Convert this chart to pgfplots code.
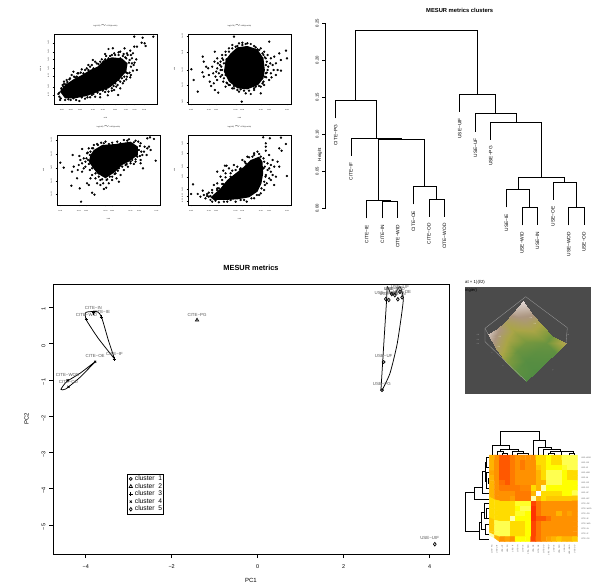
\documentclass[border=0pt]{standalone}
\usepackage{fontspec}
\setmainfont{Liberation Sans}
\usepackage{pgfplots}
\pgfplotsset{compat=1.18}
\usepgfplotslibrary{patchplots}
\definecolor{lab}{gray}{0.35}
\newcommand\fs[1]{\fontsize{#1}{#1}\selectfont}
\pgfplotsset{
 px/.style={scale only axis,anchor=south west,clip=false},
 sc/.style={px,width=103pt,height=70pt,y dir=reverse,clip=true,axis line style={line width=.8pt},
   tick align=outside,major tick length=1.5pt,tick style={line width=.25pt,black},
   ticklabel style={font=\fs{1.5}},xtick pos=lower,ytick pos=left,xticklabel pos=lower,
   yticklabel style={rotate=90,anchor=south},xlabel style={font=\fs{1.5}},ylabel style={font=\fs{1.5}},
   title style={font=\fs{1.6},yshift=-2.5pt}},
 pts/.style={only marks,mark=*,mark size=.95pt,black,mark options={draw=black,fill=black}},
 core/.style={fill=black,draw=none,no marks},
 dn/.style={black,line width=.65pt,no marks},
 dh/.style={black,line width=.75pt,no marks,solid},
 pl/.style={only marks,black,line width=.7pt,mark size=1.5pt},
 hull/.style={black,line width=.75pt,smooth,tension=.35,no marks,forget plot},
}
\newcommand\lb[3]{\node[font=\fs{4.4},text=lab] at (axis cs:#1,#2) {#3};}
\begin{document}
\begin{tikzpicture}
\useasboundingbox (0,0) rectangle (599pt,584pt);
% ---------- scatter A
\begin{axis}[sc,at={(54pt,480pt)},xmin=42,xmax=350,ymin=42,ymax=252,
 xtick={65,92,120,158,188,225,257,283,312},xticklabels={1e-05,2e-05,5e-05,1e-04,2e-04,5e-04,1e-03,2e-03,5e-03},
 ytick={68,95,118,145,168,200,225},yticklabels={1e-03,5e-04,2e-04,1e-04,5e-05,2e-05,1e-05},
 title={log(CITE) $\sim$ CITE(Sp.wOD)},xlabel={CITE},ylabel={CITE-IE}]
\addplot[core] coordinates {(60,215)(75,195)(100,178)(125,165)(150,150)(172,140)(190,122)(215,112)(245,115)(262,130)(258,155)(240,175)(225,190)(205,205)(175,215)(140,228)(105,235)(75,235)};
\addplot[pts] coordinates {(282,50)(307,53)(339,50)(304,68)(313,70)(316,78)(290,80)(282,80)(253,85)(270,92)(218,85)(205,87)(235,97)(195,102)(215,105)(158,120)(145,135)(180,125)(278,100)(260,100)(240,95)(250,102)(225,105)(55,222)(60,240)(58,230)(65,210)(70,200)(72,185)(68,195)(80,180)(78,193)(95,165)(85,238)(100,235)(118,243)(135,236)(150,232)(165,230)(180,232)(203,226)(234,225)(205,215)(215,205)(240,205)(232,195)(252,183)(260,170)(270,172)(278,152)(290,150)(280,135)(288,118)(275,130)(268,120)(272,105)(255,112)(262,105)(240,115)(245,125)(250,140)(255,150)(240,160)(245,175)(235,180)(225,190)(210,198)(225,120)(215,125)(205,115)(200,130)(190,125)(195,118)(180,140)(170,130)(160,145)(145,150)(130,160)(115,160)(110,170)(150,140)(125,148)(105,172)(88,178)(100,155)(258,158)(248,190)(220,198)(198,208)(188,212)(172,218)(155,225)(58,218)(64,205)(72,192)(82,186)(90,175)(102,170)(112,160)(122,158)(135,150)(140,145)(155,135)(165,125)(175,132)(185,118)(198,108)(210,108)(222,100)(235,105)(248,108)(258,115)(266,128)(272,140)(262,160)(268,158)(252,170)(240,185)(228,200)(215,212)(195,216)(180,222)(160,222)(142,232)(125,232)(108,240)(92,240)(75,240)(62,235)(222,210)(275,115)(283,128)(272,165)(258,178)};
\end{axis}
% ---------- scatter B
\begin{axis}[sc,at={(188pt,480pt)},xmin=443,xmax=750,ymin=42,ymax=252,
 xtick={452,505,527,585,605,660,685,738},xticklabels={1e-05,1e-04,2e-04,1e-03,2e-03,1e-02,2e-02,1e-01},
 ytick={48,97,150,195,245},yticklabels={1e+03,5e+02,1e+02,5e+01,1e+01},
 title={log(CITE) $\sim$ USE(Sp.wOD)},xlabel={USE},ylabel={CITE}]
\addplot[core] coordinates {(555,120)(570,100)(590,82)(620,78)(650,88)(668,115)(672,150)(668,175)(652,195)(620,208)(590,205)(565,185)(550,155)};
\addplot[pts] coordinates {(453,148)(460,180)(472,215)(487,110)(490,125)(497,140)(486,157)(490,170)(503,145)(505,165)(508,185)(512,198)(520,190)(523,210)(533,218)(527,155)(532,130)(523,95)(530,115)(540,125)(545,105)(555,95)(565,85)(580,50)(575,75)(595,70)(620,70)(640,78)(660,85)(685,65)(670,95)(680,105)(690,115)(700,110)(715,100)(735,92)(738,115)(720,120)(705,130)(695,135)(710,150)(720,152)(705,165)(690,160)(680,150)(675,135)(672,170)(685,180)(670,195)(660,200)(660,220)(640,210)(630,222)(615,220)(603,245)(590,210)(575,205)(565,195)(555,200)(548,185)(540,170)(545,150)(550,130)(558,118)(548,120)(542,140)(535,160)(555,165)(560,190)(675,115)(668,105)(650,88)(605,75)(585,80)(675,160)(668,185)(645,200)(600,208)(580,198)(545,115)(555,105)(565,95)(575,85)(590,78)(605,68)(615,72)(630,72)(645,82)(655,90)(665,100)(672,112)(678,125)(682,140)(678,158)(676,172)(665,190)(655,198)(640,205)(625,212)(610,212)(595,215)(580,205)(568,195)(558,188)(550,175)(545,165)(540,150)(538,135)(530,145)(698,150)(688,130)(692,172)(530,180)(525,170)(518,160)(515,140)(522,125)};
\end{axis}
% ---------- scatter C
\begin{axis}[sc,at={(57pt,379pt)},xmin=50,xmax=358,ymin=345,ymax=555,
 xtick={60,115,137,195,215,270,295,348},xticklabels={1e-05,1e-04,2e-04,1e-03,2e-03,1e-02,2e-02,1e-01},
 ytick={360,402,443,483,522},yticklabels={1e+03,5e+02,1e+02,5e+01,1e+01},
 title={log(USE) $\sim$ USE(Sp.wOD)},xlabel={USE},ylabel={USE}]
\addplot[core] coordinates {(150,405)(160,390)(185,375)(225,372)(270,365)(292,380)(292,405)(265,425)(245,435)(225,455)(195,475)(170,460)(155,440)(145,425)};
\addplot[pts] coordinates {(122,545)(60,428)(70,443)(93,497)(97,405)(117,408)(125,387)(110,475)(118,505)(155,518)(162,524)(140,490)(145,495)(100,440)(95,455)(115,435)(125,430)(130,415)(140,400)(145,385)(160,375)(170,372)(175,460)(165,475)(170,490)(180,495)(190,507)(197,503)(205,490)(215,480)(228,475)(240,465)(250,450)(262,440)(235,485)(215,470)(270,430)(285,425)(300,420)(307,445)(345,422)(340,357)(328,352)(320,355)(325,380)(320,385)(330,390)(310,395)(305,405)(300,370)(293,365)(280,367)(260,362)(240,370)(205,372)(190,370)(148,450)(135,440)(125,455)(155,465)(295,390)(290,410)(275,420)(135,425)(120,420)(148,405)(155,385)(255,435)(235,445)(225,460)(200,478)(180,480)(160,440)(143,420)(150,395)(158,385)(172,375)(182,368)(195,365)(215,368)(230,365)(250,360)(265,358)(285,362)(298,378)(302,395)(298,408)(285,418)(270,425)(258,432)(245,440)(232,452)(222,462)(208,470)(198,480)(185,478)(175,470)(165,460)(155,445)(145,432)(138,415)(142,398)(312,380)(318,405)(300,430)(280,432)(150,475)(188,490)(130,445)(112,450)};
\end{axis}
% ---------- scatter D
\begin{axis}[sc,at={(188pt,379pt)},xmin=443,xmax=750,ymin=345,ymax=555,
 xtick={452,505,527,585,605,660,685,738},xticklabels={1e-05,1e-04,2e-04,1e-03,2e-03,1e-02,2e-02,1e-01},
 ytick={370,400,440,470,508,528,543},yticklabels={1e-03,5e-04,2e-04,1e-04,5e-05,2e-05,1e-05},
 title={log(USE) $\sim$ CITE(Sp.wOD)},xlabel={USE},ylabel={CITE}]
\addplot[core] coordinates {(510,532)(540,505)(560,480)(585,460)(610,440)(630,420)(655,410)(665,425)(667,460)(662,490)(650,515)(625,532)(590,538)(550,540)(520,540)};
\addplot[pts] coordinates {(667,352)(687,355)(720,353)(735,372)(675,370)(675,380)(675,392)(715,385)(722,392)(640,400)(650,395)(660,410)(685,405)(695,420)(710,425)(690,435)(680,430)(670,425)(680,450)(695,465)(685,475)(678,490)(690,480)(700,495)(738,468)(553,437)(558,437)(548,452)(530,455)(540,470)(555,460)(565,445)(580,435)(590,440)(605,420)(620,410)(458,493)(452,522)(472,522)(487,512)(490,525)(505,518)(515,510)(520,495)(530,490)(545,480)(510,540)(495,535)(480,530)(525,542)(550,545)(570,540)(618,545)(600,540)(640,535)(655,525)(670,510)(672,495)(660,520)(675,465)(668,445)(570,460)(535,505)(510,528)(575,452)(598,448)(612,425)(635,410)(505,530)(500,522)(530,510)(548,492)(500,528)(515,518)(530,505)(545,492)(555,472)(570,470)(585,450)(600,445)(615,430)(625,412)(640,405)(655,402)(668,415)(672,440)(674,470)(670,485)(662,505)(648,525)(632,535)(610,540)(585,545)(560,545)(535,547)(515,545)(690,455)(685,445)(700,440)(705,470)(715,440)};
\end{axis}
% ---------- dendrogram
\begin{axis}[px,at={(325.7pt,375.7pt)},width=273pt,height=185.3pt,xmin=77,xmax=896,ymin=0,ymax=.25,
 axis y line=left,axis x line=none,axis line style={-,line width=.7pt},
 ytick={0,.05,.1,.15,.2,.25},yticklabels={0.00,0.05,0.10,0.15,0.20,0.25},
 tick align=outside,major tick length=3.5pt,tick style={black,line width=.6pt},
 yticklabel style={rotate=90,anchor=south,font=\fs{4.2}},
 ylabel={Height},ylabel style={font=\fs{4.5},at={(axis description cs:0,.37)},xshift=-15pt}]
\addplot[dn] coordinates {(167,.1457)(167,.2397)(533,.2397)(533,.1543)};
\addplot[dn] coordinates {(107,.1214)(107,.1457)(228,.1457)(228,.0949)};
\addplot[dn] coordinates {(153,.071)(153,.0949)(305,.0949)(305,.0931)};
\addplot[dn] coordinates {(235,.0103)(235,.0931)(374,.0931)(374,.0292)};
\addplot[dn] coordinates {(200,-.0135)(200,.0103)(270,.0103)(270,.0099)};
\addplot[dn] coordinates {(247,-.0135)(247,.0099)(293,.0099)(293,-.0135)};
\addplot[dn] coordinates {(340,.0054)(340,.0292)(410,.0292)(410,.0121)};
\addplot[dn] coordinates {(387,-.0117)(387,.0121)(433,.0121)(433,-.0117)};
\addplot[dn] coordinates {(479,.1304)(479,.1543)(587,.1543)(587,.1277)};
\addplot[dn] coordinates {(526,.1034)(526,.1277)(649,.1277)(649,.1165)};
\addplot[dn] coordinates {(572,.0926)(572,.1165)(724,.1165)(724,.0418)};
\addplot[dn] coordinates {(654,.0261)(654,.0418)(794,.0418)(794,.0355)};
\addplot[dn] coordinates {(619,.0013)(619,.0261)(689,.0261)(689,.0013)};
\addplot[dn] coordinates {(666,-.0229)(666,.0013)(712,.0013)(712,-.0229)};
\addplot[dn] coordinates {(759,.0112)(759,.0355)(829,.0355)(829,.0013)};
\addplot[dn] coordinates {(806,-.0229)(806,.0013)(852,.0013)(852,-.0229)};
\foreach \x/\y/\t in {107/.1214/CITE−PG,153/.071/CITE−IF,200/-.0135/CITE−IE,247/-.0135/CITE−IN,293/-.0135/CITE−WID,340/.0054/CITE−OE,387/-.0117/CITE−OD,433/-.0117/CITE−WOD,479/.1304/USE−UIF,526/.1034/USE−UF,572/.0926/USE−PG,619/.0013/USE−IE,666/-.0229/USE−WID,712/-.0229/USE−IN,759/.0112/USE−OE,806/-.0229/USE−WOD,852/-.0229/USE−OD}{
 \edef\tmp{\noexpand\node[rotate=90,anchor=east,font=\noexpand\fs{4.8},xshift=-3pt] at (axis cs:\x,\y) {\t};}\tmp}
\end{axis}
\node[font=\bfseries\fs{5.8}] at (459.7pt,574pt) {MESUR metrics clusters};
% ---------- PCA
\begin{axis}[px,at={(53pt,30pt)},width=396pt,height=270pt,xmin=-4.76,xmax=4.45,ymin=-5.80,ymax=1.647,
 axis line style={line width=.7pt},tick align=outside,major tick length=4pt,tick style={black,line width=.6pt},
 xtick={-4,-2,0,2,4},xticklabels={−4,−2,0,2,4},ytick={-5,-4,-3,-2,-1,0,1},yticklabels={−5,−4,−3,−2,−1,0,1},
 xtick pos=lower,ytick pos=left,
 xticklabel style={font=\fs{5.5},yshift=-3pt},yticklabel style={font=\fs{5.5},rotate=90,anchor=south,xshift=-2pt},
 xlabel={PC1},ylabel={PC2},xlabel style={font=\fs{6},yshift=-3.5pt},ylabel style={font=\fs{6},yshift=6pt},
 legend style={at={(axis cs:-3.04,-3.586)},anchor=north west,font=\fs{6.7},line width=.7pt,
   inner xsep=1.6pt,inner ysep=1pt,row sep=0pt,/tikz/column 1/.style={column sep=2.2pt},nodes={inner sep=0pt,text height=5.4pt,text depth=2.2pt}},
 legend cell align=left,
 legend image code/.code={\draw[#1] plot coordinates {(0.07cm,0cm)};}]
\addplot[pl,mark=o] coordinates {(2.93,-.505)(2.89,-1.28)};
\addplot[pl,mark=triangle,mark size=1.9pt] coordinates {(-1.41,.65)};
\addplot[pl,mark=+,mark size=1.9pt] coordinates {(-3.82,.855)(-3.98,.67)(-3.63,.73)(-3.33,-.42)};
\addplot[pl,mark=x,mark size=1.5pt] coordinates {(-3.78,-.50)(-4.42,-1.01)(-4.40,-1.19)};
\addplot[pl,mark=diamond,mark size=1.8pt] coordinates {(2.98,1.233)(3.05,1.205)(3.12,1.37)(3.19,1.34)(3.26,1.225)(3.36,1.28)(3.31,1.43)(4.12,-5.53)};
\legend{cluster\ \ 1,cluster\ \ 2,cluster\ \ 3,cluster\ \ 4,cluster\ \ 5}
\addplot[hull] coordinates {(-3.327,-.422)(-3.474,.102)(-3.629,.727)(-3.729,.884)(-3.993,.865)(-3.993,.672)(-3.707,.148)(-3.327,-.422)};
\addplot[hull] coordinates {(-3.761,-.477)(-4.133,-.817)(-4.443,-1.047)(-4.575,-1.259)(-4.466,-1.25)(-4.133,-.928)(-3.761,-.477)};
\addplot[hull] coordinates {(2.867,-1.277)(2.944,.193)(2.999,1.206)(3.015,1.573)(3.10,1.37)(3.193,1.39)(3.31,1.573)(3.387,1.206)(3.247,.011)(3.077,-.817)(2.889,-1.296)};
\lb{-3.82}{.99}{CITE−IN}\lb{-3.98}{.80}{CITE−WID}\lb{-3.63}{.87}{CITE−IE}\lb{-3.33}{-.27}{CITE−IF}
\lb{-3.78}{-.35}{CITE−OE}\lb{-4.42}{-.87}{CITE−WOD}\lb{-4.40}{-1.05}{CITE−OD}\lb{-1.41}{.78}{CITE−PG}
\lb{2.93}{-.35}{USE−UF}\lb{2.89}{-1.12}{USE−PG}\lb{4.0}{-5.36}{USE−UIF}
\lb{2.98}{1.40}{USE−WOD}\lb{3.05}{1.37}{USE−OD}\lb{3.12}{1.52}{USE−IE}\lb{3.19}{1.50}{USE−WID}\lb{3.26}{1.38}{USE−IN}\lb{3.36}{1.44}{USE−OE}\lb{3.31}{1.57}{USE−LIF}
\end{axis}
\node[font=\bfseries\fs{7.4}] at (251pt,316.5pt) {MESUR metrics};
% ---------- surface
\begin{axis}[px,at={(465pt,190pt)},width=125.7pt,height=106.7pt,xmin=465,xmax=590.7,ymin=287.3,ymax=394,y dir=reverse,
 axis line style={draw=none},ticks=none,axis background/.style={fill={rgb,255:red,75;green,75;blue,75}},
 colormap={srf}{rgb255(0)=(82,140,66) rgb255(2)=(130,155,62) rgb255(4)=(170,165,70) rgb255(7)=(172,150,128) rgb255(10)=(228,218,216)},
 point meta min=0,point meta max=1]
\addplot[surf,shader=interp,mesh/rows=5,point meta=\thisrow{c}] table {
x y c
523 301 1
532 314 .72
541 324 .4
552 336 .12
566 343 .5
514 312 .8
524.5 322 .6
535 332.5 .35
545.5 343 .1
556 353 .05
505 322 .5
515 332 .35
525.5 342 .15
536 352 .05
546 362 .02
497 329 .75
507 340 .4
516.5 350.5 .1
526 361 .02
536 372 0
488 334 .9
497 350 .55
507 363 .2
516 372 .05
526 381 0
};
\addplot[gray!75,line width=.3pt,no marks] coordinates {(488,334)(485,328.3)(525.7,296.7)(567.3,327.7)(566,343)};
\addplot[gray!75,line width=.3pt,no marks] coordinates {(485,328.3)(485,341.7)(526,381)};
\foreach \x/\y/\t in {531/318/0.4,535/324/0.3,500/337/0.2,499/347/0.1}{\edef\tmp{\noexpand\node[font=\noexpand\fs{1.6},text=white!90!gray] at (axis cs:\x,\y) {\t};}\tmp}
\foreach \x/\y/\t in {478/335/0.8,478/340/0.6,478/344/0.4,492/353/x,503/366/x,553/370/y,568/335/0.8}{\edef\tmp{\noexpand\node[font=\noexpand\fs{1.6},text=gray!60] at (axis cs:\x,\y) {\t};}\tmp}
\end{axis}
\node[font=\fs{4.3},anchor=west,inner sep=0pt] at (465pt,302pt) {at + 1)(l/2)};
\node[font=\fs{4.3},anchor=west,inner sep=0pt] at (465pt,294pt) {ingier)};
% ---------- heatmap
\begin{axis}[px,at={(489.3pt,42.3pt)},width=88pt,height=86.7pt,xmin=-.5,xmax=16.5,ymin=-.5,ymax=16.5,y dir=reverse,
 axis line style={draw=none},major tick length=0pt,xtick={0,...,16},ytick={0,...,16},
 xticklabel pos=lower,yticklabel pos=right,
 xticklabels={CITE−PG,USE−UIF,USE−UF,USE−PG,CITE−IF,CITE−IN,CITE−IE,CITE−WID,USE−OE,CITE−OE,CITE−OD,CITE−WOD,USE−IE,USE−WID,USE−IN,USE−WOD,USE−OD},
 yticklabels={USE−WOD,USE−OD,USE−IE,USE−WID,USE−IN,USE−OE,USE−PG,USE−UF,USE−UIF,CITE−OE,CITE−WOD,CITE−OD,CITE−IE,CITE−WID,CITE−IN,CITE−IF,CITE−PG},
 xticklabel style={rotate=90,anchor=east,font=\fs{1.9},text=gray!70!black},yticklabel style={anchor=west,font=\fs{1.9},text=gray!70!black,xshift=.5pt},
 colormap={hc}{rgb255=(255,50,0) rgb255=(255,88,0) rgb255=(255,145,0) rgb255=(255,180,0) rgb255=(255,220,0) rgb255=(255,255,0) rgb255=(255,255,80) rgb255=(255,255,170) rgb255=(255,255,255)},
 point meta min=0,point meta max=8]
\addplot[matrix plot*,mesh/cols=17,point meta=\thisrow{v}] table[row sep=\\,x expr={mod(\coordindex,17)},y expr={floor(\coordindex/17)}] {
v\\
3\\2\\1\\1\\1.6\\2\\2\\2\\2\\4\\4\\5\\4\\4\\6\\6\\6\\
3\\2\\1\\1\\1.6\\2\\1.6\\2\\2\\4\\4\\5\\4\\4\\6\\6\\6\\
3\\2\\1\\1\\1.6\\2\\1.6\\2\\2\\3.5\\4\\5\\5\\5\\5.5\\6\\6\\
2.6\\2\\1\\1\\1.6\\2\\2\\2\\2\\3\\4\\6\\6\\6\\5\\4\\4\\
3\\2\\1\\1\\1.6\\2\\2\\2\\2\\3\\4\\6\\6\\6\\5\\4\\4\\
3\\2\\1.4\\1\\1.6\\2\\2\\2\\2\\3\\3\\6\\6\\6\\5\\5\\5\\
3\\2\\1.6\\1.6\\1.6\\1.6\\1.8\\1.8\\4\\3\\7\\5\\5\\5\\5\\5\\5\\
3\\2\\2\\2\\2\\1.6\\1.6\\1.6\\3\\8\\4\\4\\4\\4\\5\\5\\6\\
3\\2\\2\\2\\2.4\\1.6\\1.6\\1.6\\7\\3\\4\\3.5\\3.5\\3.5\\3.5\\3.5\\3.5\\
4\\4\\4\\4\\4\\5.5\\5.5\\5.5\\.5\\1.5\\2\\2\\2\\2\\2\\2\\2\\
4\\4\\4\\4\\4\\5\\6\\6\\0\\1.5\\2\\2\\2\\2\\2\\2\\2\\
4\\4\\4\\4\\4\\5.5\\5.5\\5\\0\\1.5\\2\\2\\2\\3\\2\\2.5\\2\\
4\\4\\4\\4\\7\\5\\5\\5\\0\\1\\1\\1.5\\2\\2\\2\\2\\2\\
3.5\\6\\6\\6\\4\\4\\4\\5\\.5\\1.5\\2\\2\\2\\2\\2\\2\\2\\
3.5\\6\\6\\6\\4\\4\\4\\5\\.5\\1.5\\2\\2\\2\\2\\2\\2\\2\\
3.5\\6\\6\\6\\4\\4\\4\\5\\.5\\1.5\\2\\2\\2\\2\\2\\2\\2\\
7\\3\\2\\2.5\\2\\5\\5\\5\\.5\\1.5\\2\\2.5\\3\\3.5\\3\\3\\3.5\\
};
\end{axis}
% ---------- heatmap dendrograms (coordinates in px*3 within the panel)
\begin{axis}[px,at={(460pt,0pt)},width=139pt,height=159pt,xmin=0,xmax=417,ymin=0,ymax=477,y dir=reverse,hide axis]
\addplot[dh] coordinates {(122,62)(122,20)(238,20)(238,45)};
\addplot[dh] coordinates {(97,90)(97,62)(147,62)(147,72)};
\addplot[dh] coordinates {(120,78)(120,72)(175,72)(175,78)};
\addplot[dh] coordinates {(111,90)(111,78)(130,78)(130,84)};
\addplot[dh] coordinates {(127,90)(127,84)(142,84)(142,90)};
\addplot[dh] coordinates {(158,90)(158,78)(190,78)(190,85)};
\addplot[dh] coordinates {(173,90)(173,85)(204,85)(204,90)};
\addplot[dh] coordinates {(220,90)(220,45)(255,45)(255,66)};
\addplot[dh] coordinates {(236,90)(236,66)(275,66)(275,72)};
\addplot[dh] coordinates {(251,90)(251,72)(300,72)(300,78)};
\addplot[dh] coordinates {(272,85)(272,78)(325,78)(325,80)};
\addplot[dh] coordinates {(266,90)(266,85)(282,85)(282,90)};
\addplot[dh] coordinates {(304,90)(304,80)(340,80)(340,85)};
\addplot[dh] coordinates {(328,90)(328,85)(344,85)(344,90)};
\addplot[dh] coordinates {(42,203)(17,203)(17,318)(58,318)};
\addplot[dh] coordinates {(68,186)(42,186)(42,222)(88,222)};
\addplot[dh] coordinates {(76,140)(68,140)(68,205)(88,205)};
\addplot[dh] coordinates {(80,113)(76,113)(76,170)(80,170)};
\addplot[dh] coordinates {(88,97.6)(80,97.6)(80,128)(88,128)};
\addplot[dh] coordinates {(88,143.5)(80,143.5)(80,190)(88,190)};
\addplot[dh] coordinates {(88,159)(84,159)(84,174)(88,174)};
\addplot[dh] coordinates {(65,292)(58,292)(58,343)(88,343)};
\addplot[dh] coordinates {(72,262)(65,262)(65,312)(76,312)};
\addplot[dh] coordinates {(88,235)(72,235)(72,281)(80,281)};
\addplot[dh] coordinates {(88,251)(80,251)(80,281)(88,281)};
\addplot[dh] coordinates {(88,297)(76,297)(76,327)(88,327)};
\end{axis}
\end{tikzpicture}
\end{document}
